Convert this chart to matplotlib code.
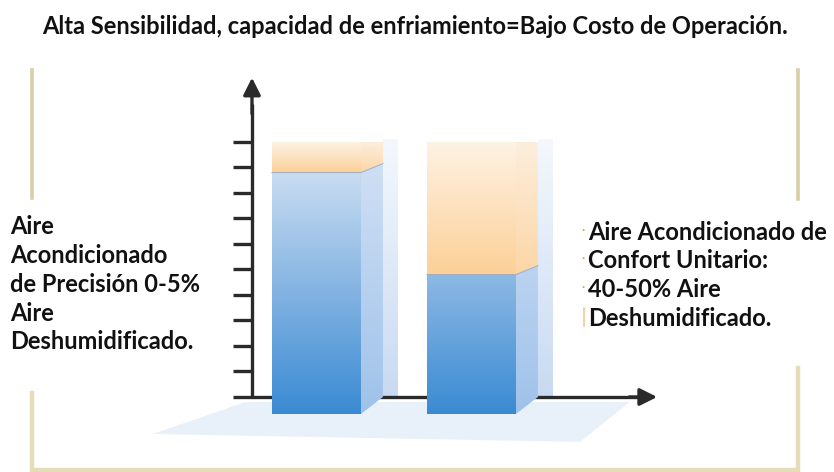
import numpy as np
import matplotlib
matplotlib.use("Agg")
import matplotlib.pyplot as plt
from matplotlib.patches import Polygon
from matplotlib.colors import LinearSegmentedColormap

plt.rcParams['font.family'] = ['Lato', 'DejaVu Sans']

# data (in tick units)
bar_pos = [1, 2]
bar_total = [10.0, 10.0]
bar_blue = [8.8, 4.8]
n_ticks = 10

title = "Alta Sensibilidad, capacidad de enfriamiento=Bajo Costo de Operación."
left_lines = ["Aire", "Acondicionado", "de Precisión 0-5%", "Aire", "Deshumidificado."]
right_lines = ["Aire Acondicionado de", "Confort Unitario:", "40-50% Aire", "Deshumidificado."]

# 3d look
bw = 0.574      # front width
ddx = 0.142     # depth x
ddy = 0.667     # depth y
strip = 0.097

W, H = 834, 472
fig = plt.figure(figsize=(W / 100, H / 100), dpi=100)

# chart axes, placed so y=0 at px 397 and y=10 at px 142
ax = fig.add_axes([150 / W, 1 - 445 / H, 520 / W, 375 / H])
ax.set_xlim(-0.074, 3.281)
ax.set_ylim(-1.882, 12.82)
ax.axis('off')

blue_cm = LinearSegmentedColormap.from_list('b', ['#3a8ad2', '#8cb8e4', '#dbe7f6'])
orange_cm = LinearSegmentedColormap.from_list('o', ['#fcd097', '#fef2e4'])
side_cm = LinearSegmentedColormap.from_list('s', ['#9fc2ea', '#d3e2f5'])


def grad_face(pts, cmap, y0, y1, z, alpha=1.0):
    poly = Polygon(pts, closed=True, facecolor='none', edgecolor='none')
    ax.add_patch(poly)
    g = np.linspace(0, 1, 256).reshape(-1, 1)
    xs = [p[0] for p in pts]
    ys = [p[1] for p in pts]
    im = ax.imshow(g, cmap=cmap, origin='lower', aspect='auto',
                   extent=[min(xs), max(xs), y0, y1], zorder=z, alpha=alpha,
                   interpolation='bilinear')
    im.set_clip_path(poly)


# floor
floor = Polygon([(-0.055, -1.45), (0.54, -0.2), (3.02, -0.2), (2.70, -1.76)],
                closed=True, facecolor='#e8f0fa', edgecolor='none', zorder=1)
ax.add_patch(floor)

# light back strips (behind the axis line)
for x, tot in zip(bar_pos, bar_total):
    xr = x + bw / 2
    pts = [(xr + ddx, 0), (xr + ddx + strip, 0), (xr + ddx + strip, tot + 0.1), (xr + ddx, tot + 0.1)]
    grad_face(pts, LinearSegmentedColormap.from_list('w', ['#c8daf1', '#f4f8fd']), 0, tot + 0.1, 2)

# axes
axc = '#2a2a2a'
ax.plot([0.461, 3.1], [0, 0], color=axc, lw=2.4, zorder=3, solid_capstyle='butt')
ax.annotate('', xy=(3.216, 0), xytext=(3.0, 0),
            arrowprops=dict(arrowstyle='-|>', color=axc, lw=2.4, mutation_scale=26), zorder=3)
ax.plot([0.584, 0.584], [0, 11.5], color=axc, lw=2.4, zorder=3, solid_capstyle='butt')
ax.annotate('', xy=(0.584, 12.63), xytext=(0.584, 11.0),
            arrowprops=dict(arrowstyle='-|>', color=axc, lw=2.4, mutation_scale=26), zorder=3)
for t in range(1, n_ticks + 1):
    ax.plot([0.461, 0.584], [t, t], color=axc, lw=2.4, zorder=3, solid_capstyle='butt')

# bars
for x, tot, b in zip(bar_pos, bar_total, bar_blue):
    xl, xr = x - bw / 2, x + bw / 2
    # front blue
    grad_face([(xl, -ddy), (xr, -ddy), (xr, b), (xl, b)], blue_cm, -ddy, tot, 4)
    # front orange
    grad_face([(xl, b), (xr, b), (xr, tot), (xl, tot)], orange_cm, b, tot, 4)
    # side blue
    grad_face([(xr, -ddy), (xr + ddx, 0), (xr + ddx, b + 0.35), (xr, b)], side_cm, -ddy, tot, 4)
    # side orange
    pts = [(xr, b), (xr + ddx, b + 0.35), (xr + ddx, tot + 0.12), (xr, tot)]
    grad_face(pts, LinearSegmentedColormap.from_list('so', ['#fcd6a6', '#fdeedd']), b, tot, 4)
    # boundary line
    ax.plot([xl, xr, xr + ddx], [b, b, b + 0.35], color='#7fa3cc', lw=0.8, zorder=5, alpha=0.7)

# gold bracket
gold = '#e6ddb8'
fig.add_artist(plt.Line2D([32 / W, 32 / W], [1 - 70 / H, 1 - 198 / H], color='#d8cfa6', lw=2.6))
fig.add_artist(plt.Line2D([798 / W, 798 / W], [1 - 70 / H, 1 - 199 / H], color='#d8cfa6', lw=2.6))
fig.add_artist(plt.Line2D([32 / W, 32 / W, 798 / W, 798 / W],
                          [1 - 393 / H, 1 - 470 / H, 1 - 470 / H, 1 - 368 / H],
                          color=gold, lw=3.2, solid_joinstyle='miter'))

# texts
tc = '#111111'
fs = 17
fig.text(415 / W, 1 - 27 / H, title, ha='center', va='center', fontsize=fs,
         fontweight='bold', color=tc)
for i, s in enumerate(left_lines):
    fig.text(10 / W, 1 - (227 + i * 28.7) / H, s, ha='left', va='center',
             fontsize=fs, fontweight='bold', color=tc)
for i, s in enumerate(right_lines):
    fig.text(588 / W, 1 - (232 + i * 28.7) / H, s, ha='left', va='center',
             fontsize=fs, fontweight='bold', color=tc)
    if i < 3:
        fig.text(583 / W, 1 - (230 + i * 28.7) / H, '•', ha='center', va='center',
                 fontsize=4, color='#e0a060')
fig.add_artist(plt.Line2D([584 / W, 584 / W], [1 - 308 / H, 1 - 326 / H], color='#f5c890', lw=1.2))

fig.savefig('out.png', dpi=100)
